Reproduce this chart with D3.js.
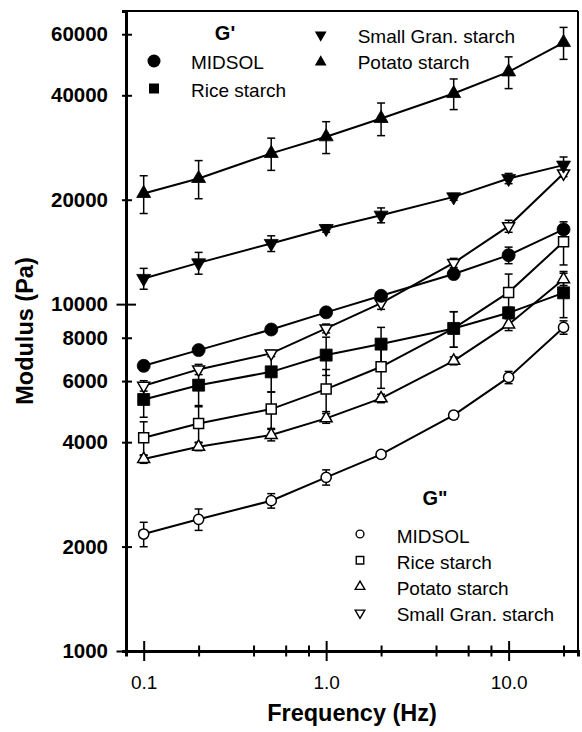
<!DOCTYPE html>
<html><head><meta charset="utf-8">
<script src="https://d3js.org/d3.v7.min.js"></script>
<style>
body{margin:0;background:#fff;}
svg{display:block;}
text{font-family:"Liberation Sans",Arial,Helvetica,sans-serif;fill:#000;}
</style></head><body>
<svg id="c" width="582" height="732"></svg>
<script>
// ---------- data ----------
const freq = [0.1, 0.2, 0.5, 1, 2, 5, 10, 20];

// G' (storage modulus), Pa
const midsolG1 = [6640, 7370, 8450, 9470, 10570, 12210, 13840, 16420];
const riceG1   = [5310, 5840, 6380, 7130, 7670, 8510, 9440, 10780];
const smallG1  = [11860, 13150, 14960, 16520, 18050, 20380, 23030, 25160];
const potatoG1 = [20850, 23030, 27200, 30370, 34300, 40480, 46720, 56780];
// G'' (loss modulus), Pa
const midsolG2 = [2174, 2397, 2712, 3168, 3688, 4786, 6148, 8569];
const riceG2   = [4119, 4530, 4982, 5689, 6598, 8510, 10810, 15120];
const potatoG2 = [3576, 3880, 4194, 4684, 5348, 6864, 8740, 11800];
const smallG2  = [5815, 6484, 7210, 8510, 10070, 13150, 16780, 23810];

// error (± Pa)
const midsolE1 = [200, 200, 250, 250, 300, 350, 760, 450];
const riceE1   = [590, 740, 800, 900, 900, 1000, 350, 1640];
const smallE1  = [820, 950, 780, 400, 890, 450, 780, 1400];
const potatoE1 = [2600, 2900, 2900, 3200, 3700, 4100, 4900, 6000];
const midsolE2 = [176, 170, 130, 160, 80, 120, 250, 380];
const riceE2   = [460, 530, 600, 790, 880, 1000, 1400, 2150];
const potatoE2 = [100, 100, 160, 150, 150, 180, 350, 480];
const smallE2  = [200, 220, 150, 250, 410, 400, 670, 500];

const yTickVals = [1000, 2000, 4000, 6000, 8000, 10000, 20000, 40000, 60000];
const yMajor = [1000, 10000];
const xTickVals = [0.1, 0.2, 0.4, 0.6, 0.8, 1, 2, 4, 6, 8, 10, 20];
const xMajor = [0.1, 1, 10];
const xTickLabels = ["0.1", "1.0", "10.0"];

const legendG1Title = "G'";
const legendG2Title = 'G"';
const namesG1 = ["MIDSOL", "Rice starch", "Small Gran. starch", "Potato starch"];
const namesG2 = ["MIDSOL", "Rice starch", "Potato starch", "Small Gran. starch"];
const xTitle = "Frequency (Hz)";
const yTitle = "Modulus (Pa)";

// ---------- layout ----------
const plot = {left: 126, right: 578, top: 11, bottom: 651};
const x = d3.scaleLog().domain([0.08, 24]).range([plot.left, plot.right]);
const y = d3.scaleLog().domain([1000, 70000]).range([plot.bottom, plot.top]);
const svg = d3.select('#c');

const mk = {
  circle:  {type: d3.symbolCircle, rot: 0},
  square:  {type: d3.symbolSquare, rot: 0},
  up:      {type: d3.symbolTriangle, rot: 0},
  down:    {type: d3.symbolTriangle, rot: 180}
};

const series = [
  {v: potatoG2, e: potatoE2, m: 'up', filled: false},
  {v: midsolG2, e: midsolE2, m: 'circle', filled: false},
  {v: riceG2, e: riceE2, m: 'square', filled: false},
  {v: smallG2, e: smallE2, m: 'down', filled: false},
  {v: riceG1, e: riceE1, m: 'square', filled: true},
  {v: midsolG1, e: midsolE1, m: 'circle', filled: true},
  {v: smallG1, e: smallE1, m: 'down', filled: true},
  {v: potatoG1, e: potatoE1, m: 'up', filled: true}
];
const sizeFilled = {circle: 133, square: 144, up: 85, down: 85};
const sizeOpen = {circle: 82, square: 100, up: 62, down: 62};

// frame (top and right)
svg.append('line').attr('x1', plot.left).attr('x2', plot.right)
  .attr('y1', plot.top).attr('y2', plot.top).attr('stroke', '#000').attr('stroke-width', 2);
svg.append('line').attr('x1', plot.right).attr('x2', plot.right)
  .attr('y1', plot.top).attr('y2', plot.bottom).attr('stroke', '#000').attr('stroke-width', 2);

// lines
const line = d3.line().x((d, i) => x(freq[i])).y(d => y(d));
const gLines = svg.append('g');
series.forEach(s => {
  gLines.append('path').attr('d', line(s.v)).attr('fill', 'none')
    .attr('stroke', '#000').attr('stroke-width', 2);
});

// error bars
const gErr = svg.append('g').attr('stroke', '#000').attr('stroke-width', 1.5);
series.forEach(s => {
  s.v.forEach((v, i) => {
    const cx = x(freq[i]), y1 = y(v + s.e[i]), y2 = y(v - s.e[i]);
    gErr.append('line').attr('x1', cx).attr('x2', cx).attr('y1', y1).attr('y2', y2);
    gErr.append('line').attr('x1', cx - 4).attr('x2', cx + 4).attr('y1', y1).attr('y2', y1);
    gErr.append('line').attr('x1', cx - 4).attr('x2', cx + 4).attr('y1', y2).attr('y2', y2);
  });
});

// markers
const gMk = svg.append('g');
series.forEach(s => {
  const m = mk[s.m];
  const sz = s.filled ? sizeFilled[s.m] : sizeOpen[s.m];
  s.v.forEach((v, i) => {
    gMk.append('path')
      .attr('d', d3.symbol().type(m.type).size(sz)())
      .attr('transform', `translate(${x(freq[i])},${y(v)}) rotate(${m.rot})`)
      .attr('fill', s.filled ? '#000' : '#fff')
      .attr('stroke', '#000').attr('stroke-width', s.filled ? 0.8 : 1.5);
  });
});

// y axis
const gy = svg.append('g').attr('transform', `translate(${plot.left},0)`)
  .call(d3.axisLeft(y).tickValues(yTickVals).tickFormat(d3.format('d')).tickSizeOuter(0).tickSize(4));
gy.select('.domain').attr('stroke-width', 3);
gy.selectAll('.tick line').attr('stroke-width', 2)
  .attr('x1', d => yMajor.includes(d) ? 10 : 6)
  .attr('x2', d => yMajor.includes(d) ? -9.5 : -4);
gy.selectAll('.tick text').attr('x', -18).attr('font-size', 20.5).attr('font-weight', 'bold');

// x axis
const gx = svg.append('g').attr('transform', `translate(0,${plot.bottom})`)
  .call(d3.axisBottom(x).tickValues(xTickVals)
    .tickFormat(d => { const k = xMajor.indexOf(d); return k >= 0 ? xTickLabels[k] : ''; })
    .tickSizeOuter(0).tickSize(5.5));
gx.select('.domain').attr('stroke-width', 3);
gx.selectAll('.tick line').attr('stroke-width', 2)
  .attr('y1', d => xMajor.includes(d) ? -10 : -5.5)
  .attr('y2', d => xMajor.includes(d) ? 10 : 5.5);
gx.selectAll('.tick text').attr('y', 38).attr('dy', 0).attr('font-size', 19);

// axis titles
svg.append('text').attr('x', (plot.left + plot.right) / 2).attr('y', 721)
  .attr('text-anchor', 'middle').attr('font-size', 23.5).attr('font-weight', 'bold').text(xTitle);
svg.append('text').attr('transform', `translate(33,${(plot.top + plot.bottom) / 2}) rotate(-90)`)
  .attr('text-anchor', 'middle').attr('font-size', 23.5).attr('font-weight', 'bold').text(yTitle);

// legend G'
const lg1 = svg.append('g');
lg1.append('text').attr('x', 225).attr('y', 40).attr('text-anchor', 'middle')
  .attr('font-size', 20).attr('font-weight', 'bold').text(legendG1Title);
const lg1Items = [
  {m: 'circle', sz: 133, mx: 154, my: 61, tx: 191, ty: 69},
  {m: 'square', sz: 100, mx: 154, my: 88.5, tx: 191, ty: 96.5},
  {m: 'down', sz: 60, mx: 320.7, my: 35, tx: 357.7, ty: 43.3},
  {m: 'up', sz: 60, mx: 320.7, my: 62, tx: 357.7, ty: 69}
];
lg1Items.forEach((it, i) => {
  lg1.append('path').attr('d', d3.symbol().type(mk[it.m].type).size(it.sz)())
    .attr('transform', `translate(${it.mx},${it.my}) rotate(${mk[it.m].rot})`).attr('fill', '#000');
  lg1.append('text').attr('x', it.tx).attr('y', it.ty).attr('font-size', 19).text(namesG1[i]);
});

// legend G''
const lg2 = svg.append('g');
lg2.append('text').attr('x', 435).attr('y', 505).attr('text-anchor', 'middle')
  .attr('font-size', 20).attr('font-weight', 'bold').text(legendG2Title);
const lg2Marks = ['circle', 'square', 'up', 'down'];
const lg2Size = {circle: 48, square: 56, up: 40, down: 40};
namesG2.forEach((n, i) => {
  const ty = 542.5 + i * 26.3;
  const m = lg2Marks[i];
  lg2.append('path').attr('d', d3.symbol().type(mk[m].type).size(lg2Size[m])())
    .attr('transform', `translate(360,${ty - 8.5}) rotate(${mk[m].rot})`)
    .attr('fill', '#fff').attr('stroke', '#000').attr('stroke-width', 1.4);
  lg2.append('text').attr('x', 396.7).attr('y', ty).attr('font-size', 19).text(n);
});
</script>
</body></html>
